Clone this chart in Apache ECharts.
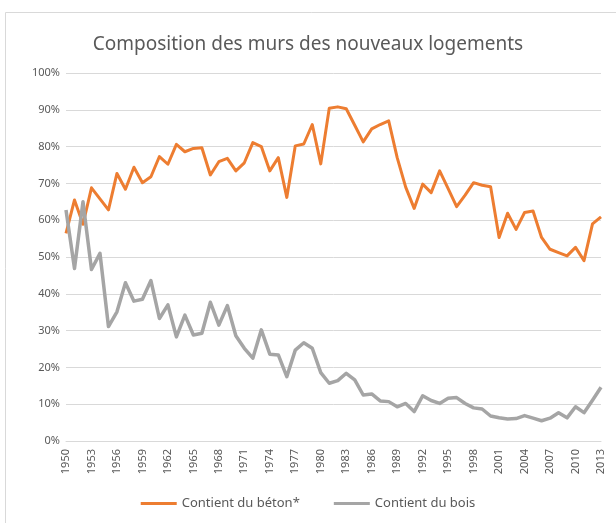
<!DOCTYPE html>
<html>
<head>
<meta charset="utf-8">
<script src="https://cdn.jsdelivr.net/npm/echarts@6/dist/echarts.min.js"></script>
<style>
  html, body { margin: 0; padding: 0; background: #fff; }
  #chart { width: 616px; height: 523px; }
</style>
</head>
<body>
<div id="chart"></div>
<script>
// années 1950 - 2013
var years = [];
for (var y = 1950; y <= 2013; y++) years.push(String(y));

// Contient du béton* (%)
var beton = [
  56.4, 65.5, 58.9, 68.8, 65.8, 62.8, 72.7, 68.4, 74.4, 70.2,
  71.8, 77.3, 75.2, 80.6, 78.6, 79.5, 79.7, 72.3, 75.9, 76.8,
  73.4, 75.6, 81.1, 80.0, 73.4, 77.0, 66.2, 80.2, 80.7, 86.0,
  75.3, 90.4, 90.8, 90.3, 85.8, 81.3, 84.8, 86.0, 87.0, 77.0,
  69.0, 63.2, 69.8, 67.5, 73.4, 68.6, 63.7, 66.8, 70.2, 69.5,
  69.1, 55.3, 61.9, 57.5, 62.1, 62.5, 55.3, 52.1, 51.2, 50.3,
  52.6, 49.0, 59.0, 60.9
];

// Contient du bois (%)
var bois = [
  62.8, 46.9, 65.0, 46.6, 51.0, 31.1, 35.1, 43.0, 38.0, 38.5,
  43.6, 33.3, 37.0, 28.3, 34.2, 28.8, 29.3, 37.7, 31.5, 36.8,
  28.6, 25.2, 22.5, 30.2, 23.6, 23.4, 17.5, 24.7, 26.7, 25.2,
  18.6, 15.7, 16.4, 18.4, 16.6, 12.5, 12.8, 10.9, 10.7, 9.3,
  10.2, 8.0, 12.3, 11.0, 10.2, 11.6, 11.8, 10.2, 9.0, 8.7,
  6.8, 6.3, 6.0, 6.1, 6.9, 6.2, 5.5, 6.2, 7.7, 6.3,
  9.3, 7.7, 11.1, 14.6
];

var font = 'Noto Sans';
var txt = '#595959';

var myChart = echarts.init(document.getElementById('chart'));
var option = {
  backgroundColor: '#fff',
  animation: false,
  graphic: [{
    type: 'rect',
    shape: { x: 5.5, y: 12.5, width: 640, height: 540 },
    style: { fill: 'none', stroke: '#d9d9d9', lineWidth: 1 },
    silent: true
  }],
  title: {
    text: 'Composition des murs des nouveaux logements',
    left: 'center',
    top: 30,
    textStyle: { fontFamily: font, fontSize: 19, fontWeight: 'normal', color: txt }
  },
  grid: { left: 66, right: 15, top: 73, bottom: 82 },
  legend: {
    bottom: 8,
    left: 'center',
    itemWidth: 36,
    itemHeight: 3,
    itemGap: 34,
    icon: 'rect',
    textStyle: { fontFamily: font, fontSize: 13, color: txt },
    data: ['Contient du béton*', 'Contient du bois']
  },
  xAxis: {
    type: 'category',
    data: years,
    boundaryGap: false,
    axisLine: { lineStyle: { color: '#d9d9d9' } },
    axisTick: { show: false },
    axisLabel: {
      interval: 2,
      rotate: 90,
      margin: 8,
      fontFamily: font,
      fontSize: 11,
      color: txt
    }
  },
  yAxis: {
    type: 'value',
    min: 0,
    max: 100,
    interval: 10,
    axisLine: { show: false },
    axisTick: { show: false },
    splitLine: { lineStyle: { color: '#d9d9d9' } },
    axisLabel: {
      formatter: '{value}%',
      margin: 6,
      fontFamily: font,
      fontSize: 11,
      color: txt
    }
  },
  series: [
    {
      name: 'Contient du béton*',
      type: 'line',
      data: beton,
      symbol: 'none',
      color: '#ED7D31',
      lineStyle: { width: 3, color: '#ED7D31', join: 'round' }
    },
    {
      name: 'Contient du bois',
      type: 'line',
      data: bois,
      symbol: 'none',
      color: '#A5A5A5',
      lineStyle: { width: 3.5, color: '#A5A5A5', join: 'round' }
    }
  ]
};
myChart.setOption(option);
</script>
</body>
</html>
